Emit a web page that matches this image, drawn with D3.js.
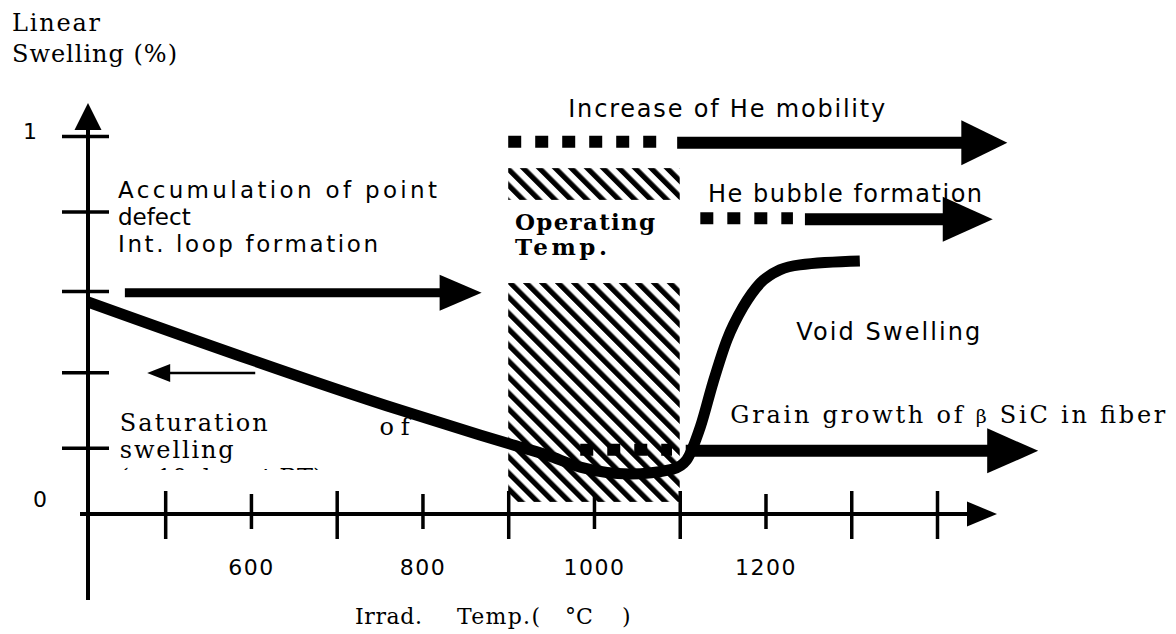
<!DOCTYPE html>
<html><head><meta charset="utf-8">
<script src="https://cdn.jsdelivr.net/npm/d3@7"></script>
<style>html,body{margin:0;padding:0;background:#fff;} svg{display:block;}</style>
</head><body>
<svg id="chart" width="1176" height="634"></svg>
<script>
// ---------- data ----------
const xTicks = [500, 600, 700, 800, 900, 1000, 1100, 1200, 1300, 1400];
const xTickLabels = ["", "600", "", "800", "", "1000", "", "1200", "", ""];
const yTicks = [0.175, 0.375, 0.59, 0.8, 1];
const yLabelValues = [0, 1];
const yLabelTexts = ["0", "1"];

// swelling curve (temperature °C, linear swelling %)
const curveTemp  = [410, 774, 867, 902, 945, 984, 1042, 1092, 1108, 1124, 1139, 1155, 1174, 1194, 1217, 1240, 1310];
const curveSwell = [0.561, 0.275, 0.209, 0.185, 0.156, 0.124, 0.106, 0.119, 0.143, 0.230, 0.349, 0.460, 0.548, 0.611, 0.646, 0.659, 0.669];

// operating temperature band
const operatingTemp = [900, 1100];
const hatchLow  = [0.831, 0.032];
const hatchHigh = [0.915, 0.611];

// mechanism arrows: dotted part then solid arrow
const arrowLevel     = [0.982, 0.780, 0.167];
const arrowDashFrom  = [900, 1124, 984];
const arrowDashTo    = [1080, 1232, 1091];
const arrowSolidFrom = [1097, 1246, 1107];
const arrowTip       = [1482, 1465, 1518];

const accumFrom = 453, accumTip = 869, accumLevel = 0.585;
const satFrom = 605, satTip = 479, satLevel = 0.373;

// annotation texts (anchored at temperature, swelling level)
const sansTexts  = ["Increase of He mobility", "Accumulation of point", "defect", "Int. loop formation", "He bubble formation", "Void Swelling"];
const sansTemps  = [970, 445, 445, 445, 1133, 1236];
const sansLevels = [1.050, 0.835, 0.765, 0.693, 0.825, 0.460];
const sansWidths = [317, 319, 0, 260, 274, 184];

const serifTexts  = ["Saturation", "of", "swelling"];
const serifTemps  = [447, 750, 447];
const serifLevels = [0.220, 0.208, 0.148];
const serifWidths = [148, 30, 114];

// ---------- drawing ----------
const svg = d3.select("#chart");
const W = 1176, H = 634;
svg.append("rect").attr("width", W).attr("height", H).attr("fill", "#fff");

const xS = d3.scaleLinear().domain([410, 1400]).range([88, 937]);
const yS = d3.scaleLinear().domain([0, 1]).range([514, 136]);

const defs = svg.append("defs");
const pat = defs.append("pattern").attr("id", "hatch")
  .attr("patternUnits", "userSpaceOnUse")
  .attr("width", 11.3).attr("height", 11.3)
  .attr("patternTransform", "rotate(-45)");
pat.append("rect").attr("width", 5.2).attr("height", 11.3).attr("fill", "#000");

defs.append("clipPath").attr("id", "clipSat")
  .append("rect").attr("x", 0).attr("y", 0).attr("width", W).attr("height", 470);

// hatched operating-temperature bands
svg.append("g").selectAll("rect").data(hatchLow).join("rect")
  .attr("x", xS(operatingTemp[0]))
  .attr("width", xS(operatingTemp[1]) - xS(operatingTemp[0]))
  .attr("y", (d, i) => yS(hatchHigh[i]))
  .attr("height", (d, i) => yS(hatchLow[i]) - yS(hatchHigh[i]))
  .attr("fill", "url(#hatch)");

// axes
const xAxisG = svg.append("g").attr("transform", `translate(0,${yS(0)})`)
  .call(d3.axisBottom(xS).tickValues(xTicks).tickFormat((d, i) => xTickLabels[i]).tickSizeOuter(0));
xAxisG.select(".domain").remove();
xAxisG.attr("font-family", null).attr("font-size", null);
xAxisG.selectAll(".tick line")
  .attr("y1", (d, i) => xTickLabels[i] ? -20 : -23)
  .attr("y2", (d, i) => xTickLabels[i] ? 15 : 25)
  .attr("stroke", "#000").attr("stroke-width", 3.5);
xAxisG.selectAll(".tick text")
  .attr("y", 61).attr("dy", 0)
  .attr("font-family", "DejaVu Sans").attr("font-size", 22)
  .attr("letter-spacing", 1.5).attr("fill", "#000");

const yAxisG = svg.append("g").attr("transform", `translate(${xS(410)},0)`)
  .call(d3.axisLeft(yS).tickValues(yTicks).tickFormat("").tickSizeOuter(0));
yAxisG.select(".domain").remove();
yAxisG.selectAll(".tick line").attr("x1", -26).attr("x2", 21)
  .attr("stroke", "#000").attr("stroke-width", 3.5);

const ax = svg.append("g");
const x0 = xS(410), y0 = yS(0);
// x axis line + arrow
ax.append("line").attr("x1", x0 - 8).attr("x2", 970).attr("y1", y0).attr("y2", y0)
  .attr("stroke", "#000").attr("stroke-width", 4);
ax.append("path").attr("d", `M997,${y0} L967,${y0 - 12.5} L967,${y0 + 12.5} Z`).attr("fill", "#000");
// y axis line + arrow
ax.append("line").attr("x1", x0).attr("x2", x0).attr("y1", 600).attr("y2", 128)
  .attr("stroke", "#000").attr("stroke-width", 4);
ax.append("path").attr("d", `M${x0},103 L${x0 - 13.5},130 L${x0 + 13.5},130 Z`).attr("fill", "#000");

// y labels
svg.append("g").selectAll("text").data(yLabelValues).join("text")
  .attr("x", (d, i) => i === 0 ? 40 : 30)
  .attr("y", d => d === 0 ? yS(d) - 7 : yS(d) + 3)
  .attr("text-anchor", "middle")
  .attr("font-family", "DejaVu Sans").attr("font-size", 22).attr("fill", "#000")
  .text((d, i) => yLabelTexts[i]);

// swelling curve
const line = d3.line()
  .x(i => xS(curveTemp[i])).y(i => yS(curveSwell[i]))
  .curve(d3.curveMonotoneX);
svg.append("path").attr("d", line(d3.range(curveTemp.length)))
  .attr("fill", "none").attr("stroke", "#000").attr("stroke-width", 11)
  .attr("stroke-linejoin", "round");

// arrow helper
function hArrow(g, xFrom, xTip, y, lw, hl, hh) {
  const dir = xTip > xFrom ? 1 : -1;
  g.append("line").attr("x1", xFrom).attr("x2", xTip - dir * (hl - 2))
    .attr("y1", y).attr("y2", y).attr("stroke", "#000").attr("stroke-width", lw);
  g.append("path")
    .attr("d", `M${xTip},${y} L${xTip - dir * hl},${y - hh} L${xTip - dir * hl},${y + hh} Z`)
    .attr("fill", "#000");
}

const arrowsG = svg.append("g");
const headLen = [46, 50, 51];
arrowLevel.forEach((lv, i) => {
  const y = yS(lv);
  arrowsG.append("line")
    .attr("x1", xS(arrowDashFrom[i])).attr("x2", xS(arrowDashTo[i]))
    .attr("y1", y - 1).attr("y2", y - 1)
    .attr("stroke", "#000").attr("stroke-width", 12).attr("stroke-dasharray", "13,14");
  hArrow(arrowsG, xS(arrowSolidFrom[i]), xS(arrowTip[i]), y, 12, headLen[i], 22.5);
});
hArrow(arrowsG, xS(accumFrom), xS(accumTip), yS(accumLevel), 9, 42, 18);
hArrow(arrowsG, xS(satFrom), xS(satTip), yS(satLevel), 2.5, 23, 9);

// annotation texts
const txt = svg.append("g");
sansTexts.forEach((t, i) => {
  const el = txt.append("text").attr("x", xS(sansTemps[i])).attr("y", yS(sansLevels[i]))
    .attr("font-family", "DejaVu Sans").attr("font-size", i >= 1 && i <= 3 ? 23 : 24).attr("fill", "#000")
    .text(t);
  if (sansWidths[i]) el.attr("textLength", sansWidths[i]).attr("lengthAdjust", "spacing");
});
serifTexts.forEach((t, i) => {
  txt.append("text").attr("x", xS(serifTemps[i])).attr("y", yS(serifLevels[i]))
    .attr("font-family", "DejaVu Serif").attr("font-size", 24).attr("fill", "#000")
    .attr("textLength", serifWidths[i]).attr("lengthAdjust", "spacing")
    .text(t);
});
// clipped third line of the saturation note
txt.append("text").attr("x", xS(447)).attr("y", yS(0.075))
  .attr("clip-path", "url(#clipSat)")
  .attr("font-family", "DejaVu Serif").attr("font-size", 24).attr("fill", "#000")
  .text("(~ 10 dpa at RT)");

// grain growth text
const gt = txt.append("text").attr("x", xS(1159)).attr("y", yS(0.241))
  .attr("font-family", "DejaVu Serif").attr("font-size", 24).attr("fill", "#000")
  .attr("textLength", 435).attr("lengthAdjust", "spacing");
gt.append("tspan").text("Grain growth of  ");
gt.append("tspan").attr("font-size", 19).text("β");
gt.append("tspan").text(" SiC in fiber");

// operating temp label
txt.append("text").attr("x", xS(908)).attr("y", yS(0.751))
  .attr("font-family", "DejaVu Serif").attr("font-weight", "bold").attr("font-size", 23)
  .attr("textLength", 140).attr("lengthAdjust", "spacing").attr("fill", "#000")
  .text("Operating");
txt.append("text").attr("x", xS(908)).attr("y", yS(0.685))
  .attr("font-family", "DejaVu Serif").attr("font-weight", "bold").attr("font-size", 23)
  .attr("textLength", 92).attr("lengthAdjust", "spacing").attr("fill", "#000")
  .text("Temp.");

// axis titles
const titleG = svg.append("g").attr("font-family", "DejaVu Serif").attr("fill", "#000");
titleG.append("text").attr("x", 12).attr("y", 31).attr("font-size", 24)
  .attr("textLength", 88).attr("lengthAdjust", "spacing").text("Linear");
titleG.append("text").attr("x", 12).attr("y", 62).attr("font-size", 24)
  .attr("textLength", 165).attr("lengthAdjust", "spacing").text("Swelling (%)");

titleG.append("text").attr("x", 355).attr("y", 624).attr("font-size", 22)
  .attr("textLength", 67).attr("lengthAdjust", "spacing").text("Irrad.");
titleG.append("text").attr("x", 457).attr("y", 624).attr("font-size", 22)
  .attr("textLength", 83).attr("lengthAdjust", "spacing").text("Temp.(");
titleG.append("text").attr("x", 565).attr("y", 624).attr("font-size", 22).text("°C");
titleG.append("text").attr("x", 622).attr("y", 624).attr("font-size", 22).text(")");
</script>
</body></html>
